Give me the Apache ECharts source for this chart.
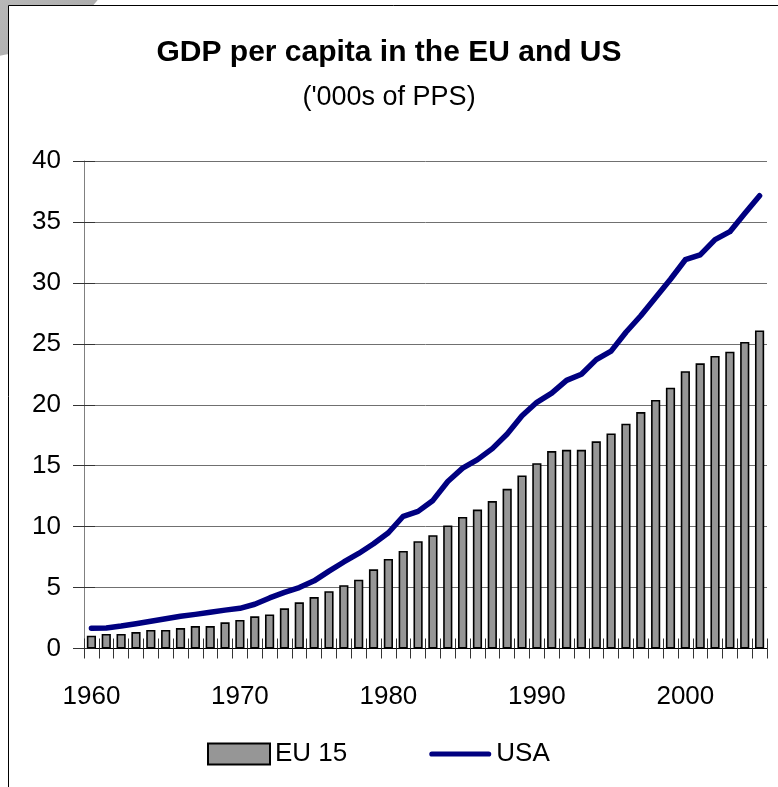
<!DOCTYPE html>
<html>
<head>
<meta charset="utf-8">
<title>GDP per capita in the EU and US</title>
<script src="https://cdn.jsdelivr.net/npm/echarts@6/dist/echarts.min.js"></script>
<style>
  html, body { margin: 0; padding: 0; background: #ffffff; }
  #chart { width: 778px; height: 787px; }
</style>
</head>
<body>
<div id="chart"></div>
<script>
// Years 1960–2005
var years = [];
for (var y = 1960; y <= 2005; y++) years.push(String(y));

// GDP per capita, thousands of PPS
var eu15 = [
  1.05, 1.19, 1.19, 1.35, 1.52, 1.52, 1.68, 1.84, 1.84, 2.15,
  2.34, 2.64, 2.80, 3.30, 3.79, 4.22, 4.70, 5.20, 5.64, 6.50,
  7.35, 8.00, 8.80, 9.30, 10.10, 10.80, 11.40, 12.10, 13.10, 14.20,
  15.20, 16.20, 16.30, 16.30, 17.00, 17.65, 18.45, 19.40, 20.40, 21.40,
  22.75, 23.40, 24.00, 24.35, 25.15, 26.10
];
var usa = [
  1.66, 1.69, 1.84, 2.03, 2.23, 2.44, 2.64, 2.80, 2.97, 3.15,
  3.30, 3.63, 4.15, 4.60, 5.00, 5.55, 6.35, 7.10, 7.80, 8.60,
  9.50, 10.85, 11.25, 12.15, 13.70, 14.80, 15.50, 16.40, 17.60, 19.10,
  20.20, 20.95, 22.00, 22.50, 23.70, 24.40, 25.95, 27.30, 28.80, 30.30,
  31.90, 32.30, 33.55, 34.20, 35.70, 37.15
];
var seriesNames = ['EU 15', 'USA'];
var titleText = 'GDP per capita in the EU and US';
var subtitleText = "('000s of PPS)";

var FONT = '"Liberation Sans", Arial, sans-serif';
var NAVY = '#000080';

var chart = echarts.init(document.getElementById('chart'), null, { renderer: 'canvas' });

var option = {
  backgroundColor: '#ffffff',
  animation: false,
  graphic: [
    {
      // grey page shading behind the frame corner
      type: 'circle', z: -20, silent: true,
      shape: { cx: -20, cy: -93, r: 150 },
      style: {
        fill: {
          type: 'linear', x: 0, y: 0, x2: 1, y2: 1,
          colorStops: [{ offset: 0, color: '#e4e4e4' }, { offset: 1, color: '#a4a4a4' }]
        }
      }
    },
    {
      type: 'rect', z: -10, silent: true,
      shape: { x: 8.5, y: 5.5, width: 900, height: 900 },
      style: { fill: '#ffffff', stroke: '#000000', lineWidth: 1 }
    }
  ],
  title: [
    {
      text: titleText, left: 'center', top: 33,
      textStyle: { fontFamily: FONT, fontSize: 30, fontWeight: 'bold', color: '#000000' }
    },
    {
      text: subtitleText, left: 'center', top: 79,
      textStyle: { fontFamily: FONT, fontSize: 27, fontWeight: 'normal', color: '#000000' }
    }
  ],
  legend: {
    left: 202, top: 736,
    itemWidth: 62, itemHeight: 21, itemGap: 82,
    textStyle: { fontFamily: FONT, fontSize: 26, color: '#000000' },
    data: [
      { name: seriesNames[0], icon: 'rect' },
      {
        name: seriesNames[1],
        icon: 'path://M2.75,0 L62.25,0 A2.75,2.75 0 0 1 62.25,5.5 L2.75,5.5 A2.75,2.75 0 0 1 2.75,0 Z',
        itemStyle: { color: NAVY, borderWidth: 0 }
      }
    ]
  },
  grid: { left: 84, top: 161, width: 683, height: 487.5 },
  xAxis: [
    {
      type: 'category', data: years, boundaryGap: true,
      axisLine: { lineStyle: { color: '#000000', width: 1 } },
      axisTick: { show: true, interval: 0, length: 10, lineStyle: { color: '#333333' } },
      axisLabel: {
        interval: 9, margin: 35,
        fontFamily: FONT, fontSize: 26, color: '#000000'
      },
      splitLine: { show: false }
    },
    {
      // inner half of the crossing tick marks
      type: 'category', data: years, position: 'bottom', offset: 0, boundaryGap: true,
      axisLine: { show: false },
      axisTick: { show: true, inside: true, interval: 0, length: 10, lineStyle: { color: '#333333' } },
      axisLabel: { show: false },
      splitLine: { show: false }
    }
  ],
  yAxis: [
    {
      type: 'value', min: 0, max: 40, interval: 5,
      axisLine: { show: true, lineStyle: { color: '#808080', width: 1 } },
      axisTick: { show: true, length: 11, lineStyle: { color: '#333333' } },
      axisLabel: { margin: 23, fontFamily: FONT, fontSize: 26, color: '#000000' },
      splitLine: { show: true, lineStyle: { color: '#707070', width: 1 } }
    },
    {
      type: 'value', min: 0, max: 40, interval: 5, position: 'left', offset: 0,
      axisLine: { show: false },
      axisTick: { show: true, inside: true, length: 11, lineStyle: { color: '#333333' } },
      axisLabel: { show: false },
      splitLine: { show: false }
    }
  ],
  series: [
    {
      name: seriesNames[0], type: 'bar', data: eu15,
      xAxisIndex: 0, yAxisIndex: 0,
      barWidth: '62%',
      itemStyle: { color: '#969696', borderColor: '#000000', borderWidth: 1.6 },
      z: 2
    },
    {
      name: seriesNames[1], type: 'line', data: usa,
      xAxisIndex: 0, yAxisIndex: 0,
      symbol: 'none', smooth: false,
      lineStyle: { color: NAVY, width: 5.5, cap: 'round', join: 'round' },
      itemStyle: { color: NAVY },
      z: 3
    }
  ]
};

chart.setOption(option);
</script>
</body>
</html>
